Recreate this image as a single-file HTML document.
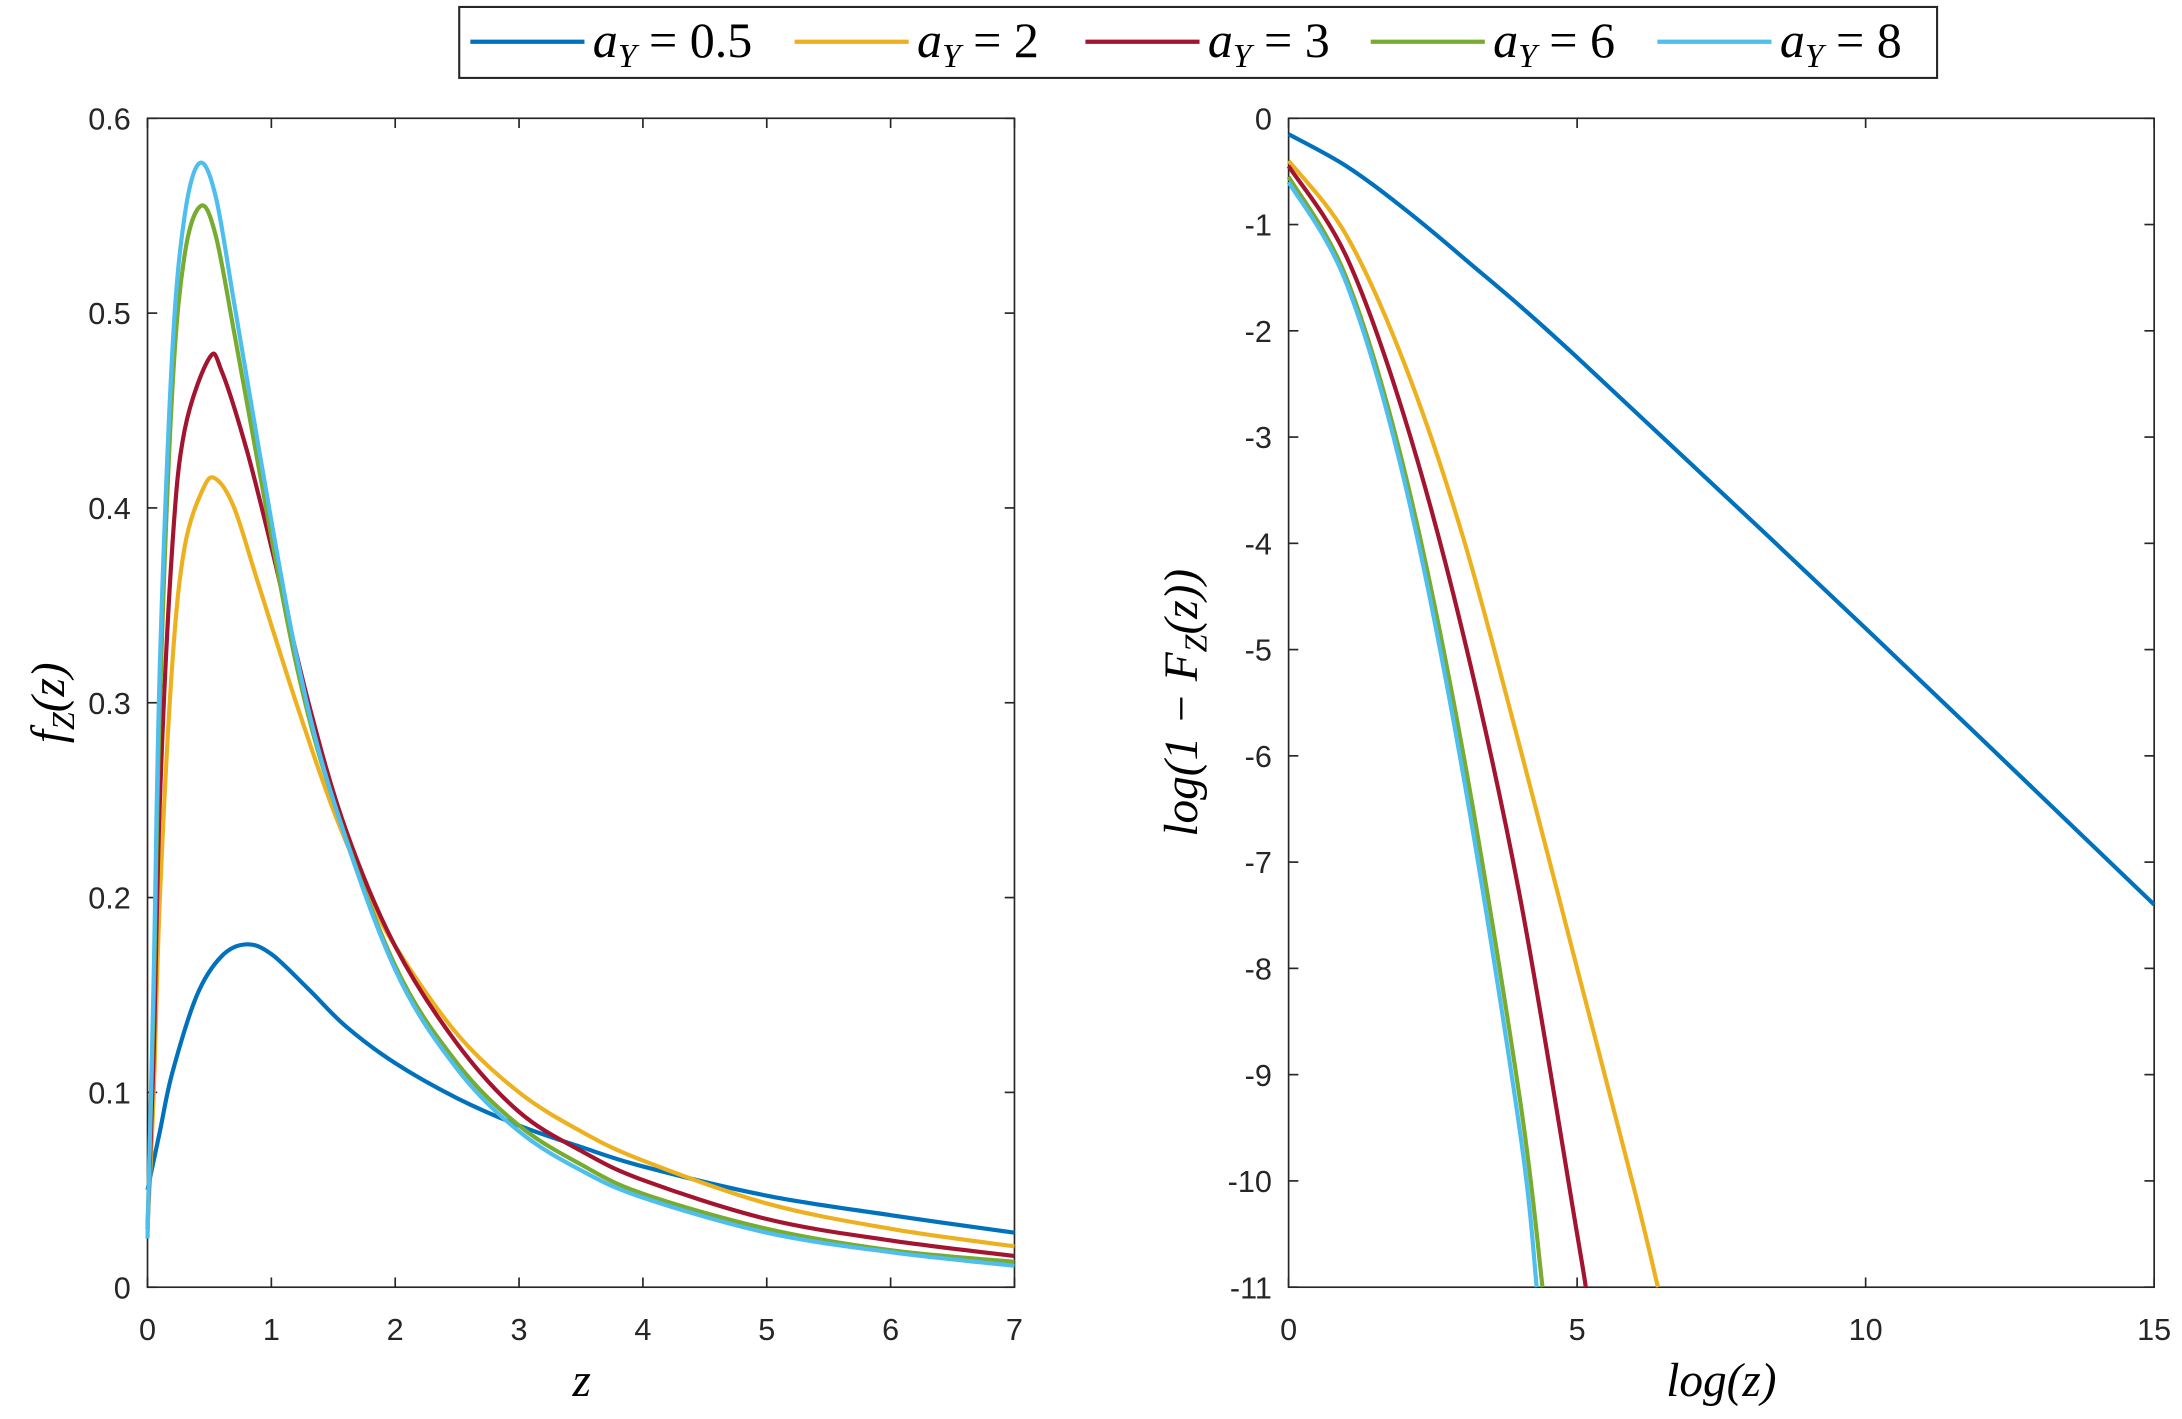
<!DOCTYPE html>
<html><head><meta charset="utf-8"><style>
html,body{margin:0;padding:0;background:#fff;}
svg{display:block;}
.t{font-family:"Liberation Sans",sans-serif;font-size:22px;fill:#262626;}
.m{font-family:"Liberation Serif",serif;font-style:italic;fill:#000;}
.n{font-family:"Liberation Serif",serif;fill:#000;}
</style></head><body>
<svg id="s" width="2182" height="1419" viewBox="0 0 1568 1019.7" preserveAspectRatio="none" xmlns="http://www.w3.org/2000/svg">
<rect width="1568" height="1020" fill="#fff"/>
<g id="axes" stroke="#262626" stroke-width="1.2" fill="none">
<rect x="106" y="85" width="623" height="840"/>
<rect x="926" y="85" width="622" height="840"/>
</g>
<g id="ticks" stroke="#262626" stroke-width="1.2"></g>
<g id="labels"></g>
<g id="curves" fill="none" stroke-width="3" stroke-linejoin="round"></g>
<text class="m" x="418" y="1003" font-size="34" text-anchor="middle">z</text>
<text class="m" transform="translate(46,505) rotate(-90)" font-size="34" text-anchor="middle">f<tspan font-size="23" dy="7">Z</tspan><tspan dy="-7">(z)</tspan></text>
<text class="m" x="1237" y="1003" font-size="34" text-anchor="middle">log(z)</text>
<text class="m" transform="translate(860,505) rotate(-90)" font-size="34" text-anchor="middle">log(1 − F<tspan font-size="23" dy="7">Z</tspan><tspan dy="-7">(z))</tspan></text>
<rect x="330" y="5" width="1062" height="51" fill="#fff" stroke="#262626" stroke-width="1.5"/>
<g id="leg"></g>
</svg>
<script>
const NS="http://www.w3.org/2000/svg";
function el(p,tag,a,txt){const e=document.createElementNS(NS,tag);for(const k in a)e.setAttribute(k,a[k]);if(txt!=null)e.textContent=txt;document.getElementById(p).appendChild(e);return e;}
for(let i=0;i<=7;i++){const x=106+89*i;el("ticks","line",{x1:x,y1:925,x2:x,y2:918});el("ticks","line",{x1:x,y1:85,x2:x,y2:92});el("labels","text",{class:"t",x:x,y:963,"text-anchor":"middle"},String(i));}
for(let i=0;i<=6;i++){const y=925-140*i;el("ticks","line",{x1:106,y1:y,x2:113,y2:y});el("ticks","line",{x1:729,y1:y,x2:722,y2:y});el("labels","text",{class:"t",x:94,y:y+8,"text-anchor":"end"},i==0?"0":(i/10).toString());}
for(let i=0;i<=3;i++){const x=926+41.4667*5*i;el("ticks","line",{x1:x,y1:925,x2:x,y2:918});el("ticks","line",{x1:x,y1:85,x2:x,y2:92});el("labels","text",{class:"t",x:x,y:963,"text-anchor":"middle"},String(5*i));}
for(let i=0;i<=11;i++){const y=85+76.36*i;el("ticks","line",{x1:926,y1:y,x2:933,y2:y});el("ticks","line",{x1:1548,y1:y,x2:1541,y2:y});el("labels","text",{class:"t",x:914,y:y+8,"text-anchor":"end"},i==0?"0":"-"+i);}
const C=["#0072BD","#EDB120","#A2142F","#77AC30","#4DBEEE"];
const L=[
[[0,0.05],[0.1,0.08],[0.2,0.11],[0.4,0.15],[0.6,0.17],[0.8,0.176],[1,0.171],[1.3,0.153],[1.6,0.134],[2,0.115],[2.5,0.097],[3,0.083],[3.5,0.072],[4,0.062],[5,0.047],[6,0.037],[7,0.028]],
[[0,0.03],[0.05,0.1],[0.1,0.2],[0.2,0.32],[0.3,0.38],[0.45,0.41],[0.55,0.415],[0.7,0.4],[0.9,0.36],[1.2,0.3],[1.5,0.245],[1.8,0.2],[2,0.175],[2.5,0.13],[3,0.1],[3.5,0.08],[4,0.065],[5,0.043],[6,0.03],[7,0.021]],
[[0,0.03],[0.05,0.12],[0.1,0.25],[0.2,0.38],[0.3,0.44],[0.5,0.477],[0.6,0.47],[0.8,0.43],[1,0.38],[1.3,0.3],[1.6,0.235],[2,0.175],[2.5,0.125],[3,0.09],[3.5,0.07],[4,0.055],[5,0.035],[6,0.024],[7,0.016]],
[[0,0.03],[0.05,0.15],[0.1,0.3],[0.2,0.46],[0.3,0.53],[0.43,0.555],[0.55,0.54],[0.7,0.49],[0.9,0.42],[1.2,0.32],[1.5,0.25],[2,0.165],[2.5,0.115],[3,0.083],[3.5,0.063],[4,0.048],[5,0.03],[6,0.019],[7,0.013]],
[[0,0.025],[0.05,0.16],[0.1,0.32],[0.2,0.48],[0.3,0.55],[0.42,0.577],[0.55,0.56],[0.7,0.505],[0.9,0.43],[1.2,0.325],[1.5,0.25],[2,0.163],[2.5,0.112],[3,0.08],[3.5,0.06],[4,0.046],[5,0.028],[6,0.018],[7,0.011]]];
const R=[
[[0,-0.15],[1,-0.45],[2,-0.85],[3,-1.3],[5,-2.25],[10,-4.8],[15,-7.4]],
[[0,-0.4],[1,-1.1],[2,-2.3],[3,-3.9],[4,-5.9],[5,-8.0],[6,-10.1],[6.4,-11]],
[[0,-0.45],[1,-1.3],[2,-2.8],[3,-4.8],[4,-7.3],[5,-10.5],[5.15,-11]],
[[0,-0.55],[1,-1.5],[2,-3.3],[3,-5.9],[4,-9.2],[4.4,-11]],
[[0,-0.6],[1,-1.55],[2,-3.4],[3,-6.1],[4,-9.5],[4.3,-11]]];
function path(p){let d="M"+p[0][0]+","+p[0][1];for(let i=0;i<p.length-1;i++){const p0=p[Math.max(0,i-1)],p1=p[i],p2=p[i+1],p3=p[Math.min(p.length-1,i+2)];const c1=[p1[0]+(p2[0]-p0[0])/6,p1[1]+(p2[1]-p0[1])/6],c2=[p2[0]-(p3[0]-p1[0])/6,p2[1]-(p3[1]-p1[1])/6];d+=` C${c1[0]},${c1[1]} ${c2[0]},${c2[1]} ${p2[0]},${p2[1]}`;}return d;}
for(let k=0;k<5;k++){
el("curves","path",{d:path(L[k].map(q=>[106+89*q[0],925-1400*q[1]])),stroke:C[k]});
el("curves","path",{d:path(R[k].map(q=>[926+41.4667*q[0],85-76.36*q[1]])),stroke:C[k]});}
const lg=[[338,"0.5"],[571,"2"],[780,"3"],[985,"6"],[1191,"8"]];
lg.forEach((g,k)=>{const x=g[0];el("leg","line",{x1:x,y1:30,x2:x+82,y2:30,stroke:C[k],"stroke-width":3});
const t=el("leg","text",{class:"m",x:x+88,y:41,"font-size":36});
t.innerHTML='a<tspan font-size="24" dy="7">Y</tspan><tspan class="n" dy="-7" font-style="normal"> = '+g[1]+'</tspan>';});
</script>
</body></html>
